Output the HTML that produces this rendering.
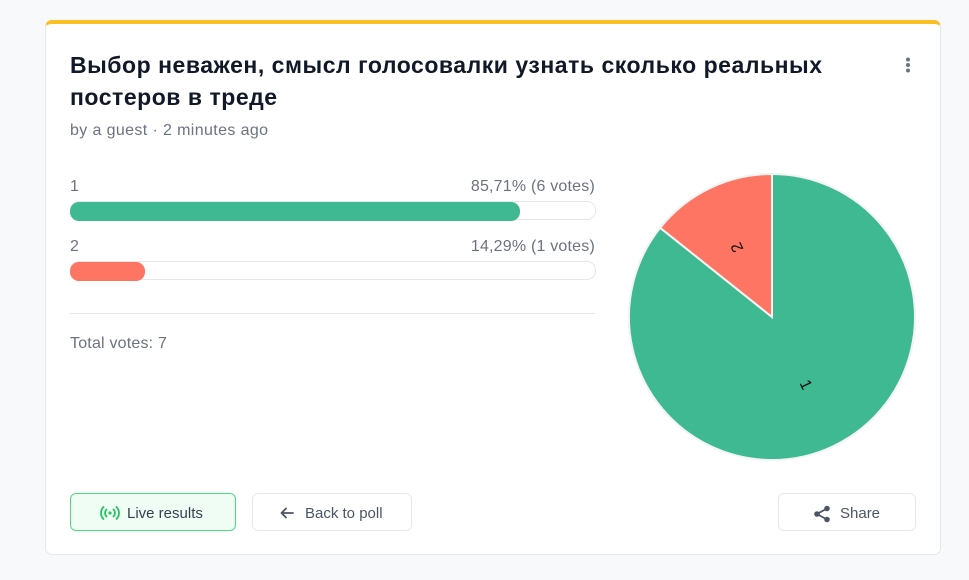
<!DOCTYPE html>
<html><head><meta charset="utf-8">
<style>
html,body{margin:0;padding:0;}
body{width:969px;height:580px;background:#f8f9fb;position:relative;overflow:hidden;font-family:"Liberation Sans",Arial,sans-serif;}
.card{position:absolute;left:45px;top:20px;width:894px;height:530px;background:#fff;border:1px solid #e5e7eb;border-top:4px solid #fbbf24;border-radius:7px;box-sizing:content-box;}
.abs{position:absolute;white-space:nowrap;}
.title{left:70px;top:49px;font-size:23px;line-height:32px;font-weight:bold;color:#111827;letter-spacing:0.53px;}
.sub{left:70px;top:121px;font-size:16px;line-height:20px;color:#6b7280;letter-spacing:0.38px;}
.lbl{font-size:16px;line-height:20px;color:#6b7280;letter-spacing:0.2px;}
.track{position:absolute;left:70px;width:524px;height:17px;border:1px solid #e5e7eb;border-radius:9px;background:#fff;}
.fill{position:absolute;left:70px;height:19px;border-radius:9px;}
.btn{position:absolute;top:493px;height:36px;border:1px solid #e5e7eb;border-radius:6px;background:#fff;font-size:15px;line-height:40px;color:#4b5563;}
</style></head><body>
<div class="card"></div>
<div class="abs title">Выбор неважен, смысл голосовалки узнать сколько реальных<br>постеров в треде</div>
<div class="abs sub">by a guest · 2 minutes ago</div>
<svg class="abs" style="left:902px;top:56px" width="12" height="20"><circle cx="6" cy="3.5" r="2" fill="#6b7280"/><circle cx="6" cy="9" r="2" fill="#6b7280"/><circle cx="6" cy="14.5" r="2" fill="#6b7280"/></svg>

<div class="abs lbl" style="left:70px;top:177px">1</div>
<div class="abs lbl" style="right:374px;top:177px">85,71% (6 votes)</div>
<div class="track" style="top:201px"></div>
<div class="fill" style="top:202px;width:450px;background:#3fb991"></div>

<div class="abs lbl" style="left:70px;top:237px">2</div>
<div class="abs lbl" style="right:374px;top:237px">14,29% (1 votes)</div>
<div class="track" style="top:261px"></div>
<div class="fill" style="top:262px;width:75px;background:#ff7563"></div>

<div class="abs" style="left:70px;top:313px;width:525px;height:1px;background:#e5e7eb"></div>
<div class="abs lbl" style="left:70px;top:334px">Total votes: 7</div>

<svg class="abs" style="left:620px;top:165px" width="305" height="305">
  <g transform="translate(152,152)">
    <circle r="144" fill="#e5e7eb"/>
    <path d="M0,0 L0,-143 A143,143 0 1 1 -111.8,-89.2 Z" fill="#3fb991" stroke="#f3f4f6" stroke-width="2"/>
    <path d="M0,0 L-111.8,-89.2 A143,143 0 0 1 0,-143 Z" fill="#ff7563" stroke="#f3f4f6" stroke-width="2"/>
    <text transform="translate(33,68) rotate(64.3)" font-size="16" text-anchor="middle" dominant-baseline="middle" fill="#111" font-family="Liberation Sans, sans-serif">1</text>
    <text transform="translate(-34,-70) rotate(244.3)" font-size="16" text-anchor="middle" dominant-baseline="middle" fill="#111" font-family="Liberation Sans, sans-serif">2</text>
  </g>
</svg>

<div class="btn" style="left:70px;width:164px;background:#f0fdf4;border-color:#4ade80;">
  <svg class="abs" style="left:29px;top:11px" width="20" height="16" viewBox="0 0 20 16">
    <circle cx="10" cy="8" r="1.6" fill="#22c55e"/>
    <path d="M6.5,4.5 A5,5 0 0 0 6.5,11.5 M13.5,4.5 A5,5 0 0 1 13.5,11.5" stroke="#22c55e" stroke-width="1.8" fill="none" stroke-linecap="round"/>
    <path d="M3.5,2 A8.5,8.5 0 0 0 3.5,14 M16.5,2 A8.5,8.5 0 0 1 16.5,14" stroke="#22c55e" stroke-width="1.8" fill="none" stroke-linecap="round"/>
  </svg>
  <span class="abs" style="left:56px;top:0;color:#374151">Live results</span>
</div>
<div class="btn" style="left:252px;width:158px;">
  <svg class="abs" style="left:27px;top:13px" width="14" height="12" viewBox="0 0 14 12"><path d="M13,6 H2 M6,1.5 L1.5,6 L6,10.5" stroke="#4b5563" stroke-width="1.8" fill="none" stroke-linecap="round" stroke-linejoin="round"/></svg>
  <span class="abs" style="left:52px;top:0">Back to poll</span>
</div>
<div class="btn" style="left:778px;width:136px;">
  <svg class="abs" style="left:34px;top:11px" width="18" height="18" viewBox="0 0 18 18"><circle cx="14" cy="3.5" r="2.8" fill="#4b5563"/><circle cx="4" cy="9" r="2.8" fill="#4b5563"/><circle cx="14" cy="14.5" r="2.8" fill="#4b5563"/><path d="M14,3.5 L4,9 L14,14.5" stroke="#4b5563" stroke-width="1.8" fill="none"/></svg>
  <span class="abs" style="left:61px;top:0">Share</span>
</div>
</body></html>
